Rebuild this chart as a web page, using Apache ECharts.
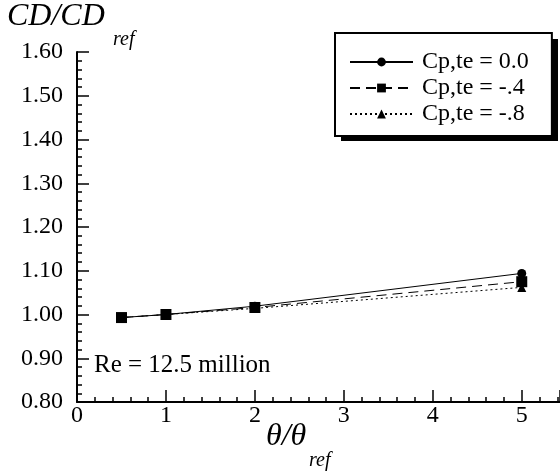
<!DOCTYPE html>
<html>
<head>
<meta charset="utf-8">
<script src="https://cdn.jsdelivr.net/npm/echarts@6/dist/echarts.min.js"></script>
<style>
  html, body { margin: 0; padding: 0; background: #fff; }
  #chart { width: 560px; height: 472px; }
</style>
</head>
<body>
<div id="chart"></div>
<script>
// theta / theta_ref
const xValues = [0.5, 1, 2, 5];
// CD / CD_ref for each trailing-edge pressure coefficient
const cp00 = [0.993, 1.0, 1.019, 1.094];
const cp04 = [0.993, 1.0, 1.016, 1.075];
const cp08 = [0.993, 1.0, 1.014, 1.062];
const seriesNames = ['Cp,te = 0.0', 'Cp,te = -.4', 'Cp,te = -.8'];

const FONT = 'Liberation Serif';
const pairs = vals => xValues.map((x, i) => [x, vals[i]]);

const chart = echarts.init(document.getElementById('chart'));

const lineSeries = (name, vals, symbol, size, type) => ({
  name,
  type: 'line',
  data: pairs(vals),
  symbol,
  symbolSize: size,
  showSymbol: true,
  itemStyle: { color: '#000' },
  lineStyle: { color: '#000', width: 1, type },
  animation: false
});

chart.setOption({
  animation: false,
  grid: { left: 77, right: 0, top: 52, bottom: 70, outerBoundsMode: 'none' },
  xAxis: {
    type: 'value',
    min: 0,
    max: 5.43,   // plot is cut at the right edge, just past 5
    interval: 1,
    axisLine: { lineStyle: { color: '#000', width: 2 } },
    axisTick: { inside: true, length: 12, lineStyle: { color: '#000', width: 1.5 } },
    minorTick: { show: true, splitNumber: 5, length: 5, lineStyle: { color: '#000', width: 1.5 } },
    splitLine: { show: false },
    axisLabel: {
      color: '#000', fontFamily: FONT, fontSize: 24, margin: 2,
      formatter: v => (Number.isInteger(v) ? String(v) : '')
    }
  },
  yAxis: {
    type: 'value',
    min: 0.8,
    max: 1.6,
    interval: 0.1,
    axisLine: { show: true, lineStyle: { color: '#000', width: 2 } },
    axisTick: { inside: true, length: 12, lineStyle: { color: '#000', width: 1.5 } },
    minorTick: { show: true, splitNumber: 5, length: 5, lineStyle: { color: '#000', width: 1.5 } },
    splitLine: { show: false },
    axisLabel: {
      color: '#000', fontFamily: FONT, fontSize: 24, margin: 14,
      formatter: v => v.toFixed(2)
    }
  },
  legend: {
    orient: 'vertical',
    left: 335,
    top: 33,
    padding: [17, 23, 10, 14],
    itemGap: 2,
    itemWidth: 63,
    itemHeight: 11,
    backgroundColor: '#fff',
    borderColor: '#000',
    borderWidth: 2,
    borderRadius: 0,
    textStyle: { color: '#000', fontFamily: FONT, fontSize: 24, padding: [0, 0, 0, 4] },
    data: seriesNames
  },
  graphic: [
    // drop shadow behind the legend box
    {
      type: 'rect', z: 0, left: 341, top: 39,
      shape: { width: 217, height: 102 },
      style: { fill: '#000' }
    },
    {
      type: 'text', left: 7, top: 1,
      style: { text: 'CD/CD', font: 'italic 32px "Liberation Serif"', fill: '#000' }
    },
    {
      type: 'text', left: 113, top: 30,
      style: { text: 'ref', font: 'italic 20px "Liberation Serif"', fill: '#000' }
    },
    {
      type: 'text', left: 266, top: 421,
      style: { text: 'θ/θ', font: 'italic 32px "Liberation Serif"', fill: '#000' }
    },
    {
      type: 'text', left: 309, top: 451,
      style: { text: 'ref', font: 'italic 20px "Liberation Serif"', fill: '#000' }
    },
    {
      type: 'text', left: 94, top: 353,
      style: { text: 'Re = 12.5 million', font: '25px "Liberation Serif"', fill: '#000' }
    }
  ],
  series: [
    lineSeries(seriesNames[2], cp08, 'triangle', 9, [2, 3]),
    lineSeries(seriesNames[1], cp04, 'rect', 11, [10, 6]),
    lineSeries(seriesNames[0], cp00, 'circle', 9, 'solid')
  ]
});
</script>
</body>
</html>
